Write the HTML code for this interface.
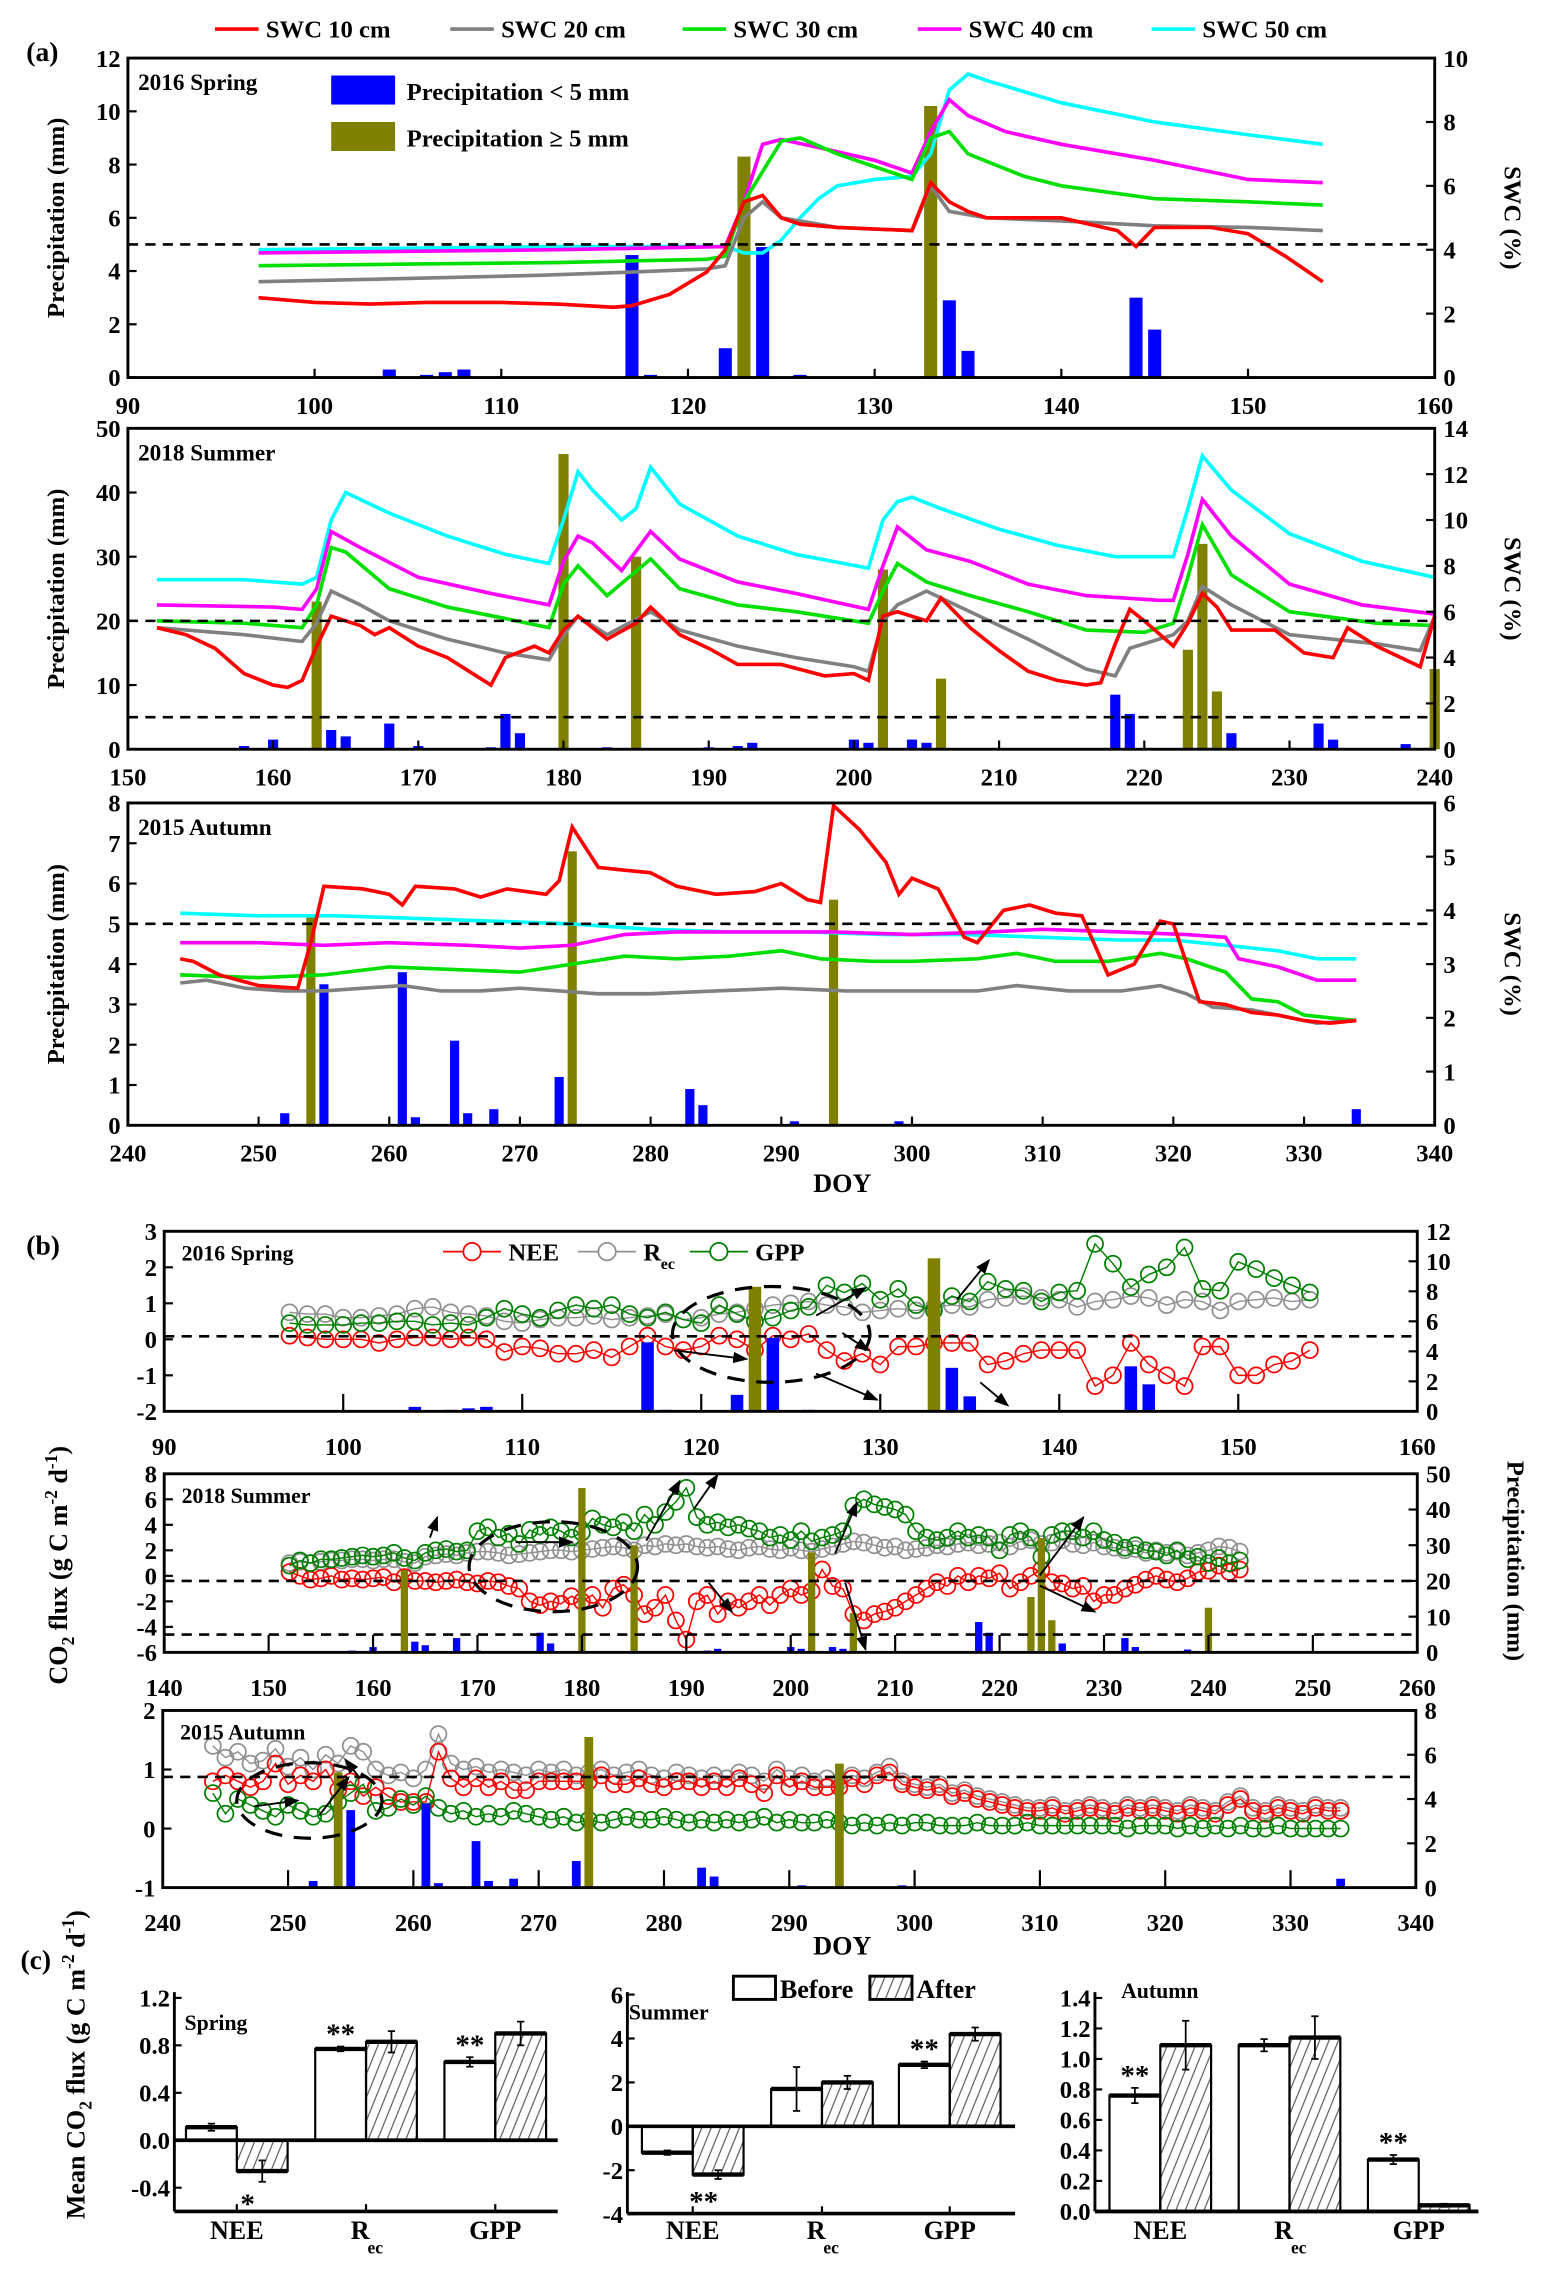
<!DOCTYPE html>
<html><head><meta charset="utf-8"><style>
html,body{margin:0;padding:0;background:#fff;}
svg{display:block;font-family:"Liberation Serif",serif;font-weight:bold;}
</style></head><body>
<svg id="fig" xmlns="http://www.w3.org/2000/svg" width="1551" height="2284" viewBox="0 0 1068 1573">
<defs><pattern id="hatch" width="6" height="6" patternUnits="userSpaceOnUse" patternTransform="rotate(22)"><line x1="1" y1="0" x2="1" y2="6" stroke="#555" stroke-width="0.8"/></pattern>
<marker id="arr" markerWidth="8" markerHeight="8" refX="7" refY="4" orient="auto"><path d="M0,1 L8,4 L0,7 Z" fill="#000"/></marker></defs>
</svg>
<script>
// ---------- DATA ----------
// Spring 2016 precipitation (mm)
const springSmallDoy=[104,106,107,108,117,118,122,124,126,134,135,144,145];
const springSmallVal=[0.3,0.1,0.2,0.3,4.6,0.1,1.1,4.9,0.1,2.9,1.0,3.0,1.8];
const springLargeDoy=[123,133];
const springLargeVal=[8.3,10.2];
// Summer 2018 precipitation
const summerSmallDoy=[158,160,164,165,168,170,175,176,177,183,190,192,193,200,201,204,205,218,219,226,232,233,238];
const summerSmallVal=[0.5,1.5,3,2,4,0.5,0.3,5.5,2.5,0.3,0.3,0.5,1,1.5,1,1.5,1,8.5,5.5,2.5,4,1.5,0.8];
const summerLargeDoy=[163,180,185,202,206,223,224,225,240];
const summerLargeVal=[23,46,30,28,11,15.5,32,9,12.5];
// Autumn 2015 precipitation
const autumnSmallDoy=[252,255,261,262,265,266,268,273,283,284,291,299,334];
const autumnSmallVal=[0.3,3.5,3.8,0.2,2.1,0.3,0.4,1.2,0.9,0.5,0.1,0.1,0.4];
const autumnLargeDoy=[254,274,294];
const autumnLargeVal=[5.2,6.8,5.6];

// SWC spring (doy,value %)
const spSWC10=[[97,2.5],[100,2.35],[103,2.3],[106,2.35],[110,2.35],[113,2.3],[116,2.2],[117,2.25],[119,2.6],[121,3.3],[122,4.0],[123,5.5],[124,5.7],[125,5.0],[126,4.8],[128,4.7],[132,4.6],[133,6.1],[134,5.5],[135,5.2],[136,5.0],[140,5.0],[143,4.6],[144,4.1],[145,4.7],[148,4.7],[150,4.5],[152,3.8],[154,3.0]];
const spSWC20=[[97,3.0],[105,3.1],[112,3.2],[117,3.3],[121,3.4],[122,3.5],[123,5.0],[124,5.5],[125,5.0],[128,4.7],[132,4.6],[133,6.0],[134,5.2],[136,5.0],[140,4.9],[145,4.75],[150,4.7],[154,4.6]];
const spSWC30=[[97,3.5],[105,3.55],[113,3.6],[121,3.7],[122,3.8],[123,5.5],[125,7.4],[126,7.5],[128,7.0],[132,6.2],[133,7.5],[134,7.7],[135,7.0],[138,6.3],[140,6.0],[145,5.6],[150,5.5],[154,5.4]];
const spSWC40=[[97,3.9],[105,3.95],[113,4.0],[122,4.1],[123,5.5],[124,7.3],[125,7.45],[127,7.2],[130,6.8],[132,6.4],[133,7.7],[134,8.7],[135,8.2],[137,7.7],[140,7.3],[145,6.8],[150,6.2],[154,6.1]];
const spSWC50=[[97,4.0],[105,4.05],[113,4.1],[122,4.1],[123,3.9],[124,3.9],[125,4.3],[126,5.0],[127,5.6],[128,6.0],[130,6.2],[132,6.3],[133,7.0],[134,9.0],[135,9.5],[136,9.3],[140,8.6],[145,8.0],[150,7.6],[154,7.3]];
// SWC summer
const suSWC10=[[152,5.3],[154,5.0],[156,4.4],[158,3.3],[160,2.8],[161,2.7],[162,3.0],[163,4.5],[164,5.8],[166,5.4],[167,5.0],[168,5.3],[170,4.5],[172,4.0],[174,3.2],[175,2.8],[176,4.0],[178,4.5],[179,4.2],[180,5.2],[181,5.8],[183,4.8],[185,5.5],[186,6.2],[188,5.0],[190,4.4],[192,3.7],[195,3.7],[198,3.2],[200,3.3],[201,3.0],[202,5.8],[203,6.0],[205,5.6],[206,6.6],[208,5.3],[210,4.3],[212,3.4],[214,3.0],[216,2.8],[217,2.9],[218,4.6],[219,6.1],[220,5.6],[222,4.5],[223,5.5],[224,6.8],[225,6.2],[226,5.2],[229,5.2],[231,4.2],[233,4.0],[234,5.3],[236,4.5],[239,3.6],[240,5.8]];
const suSWC20=[[152,5.3],[158,5.0],[162,4.7],[163,5.5],[164,6.9],[166,6.3],[168,5.6],[172,4.8],[176,4.2],[179,3.9],[180,5.0],[181,5.8],[183,5.0],[186,6.0],[188,5.2],[192,4.5],[196,4.0],[200,3.6],[201,3.4],[202,5.6],[203,6.3],[205,6.9],[208,6.0],[212,4.8],[216,3.5],[218,3.2],[219,4.4],[222,5.0],[223,5.6],[224,7.1],[226,6.3],[230,5.0],[236,4.6],[239,4.3],[240,5.8]];
const suSWC30=[[152,5.6],[158,5.5],[162,5.3],[163,6.3],[164,8.8],[165,8.6],[168,7.0],[172,6.2],[176,5.7],[179,5.3],[180,7.2],[181,8.0],[183,6.7],[186,8.3],[188,7.0],[192,6.3],[196,6.0],[201,5.5],[202,6.9],[203,8.1],[205,7.3],[208,6.7],[212,6.0],[216,5.2],[220,5.1],[222,5.5],[223,7.5],[224,9.8],[226,7.6],[230,6.0],[236,5.5],[240,5.4]];
const suSWC40=[[152,6.3],[160,6.2],[162,6.1],[163,7.0],[164,9.5],[166,8.8],[170,7.5],[175,6.8],[179,6.3],[180,8.2],[181,9.3],[182,9.0],[184,7.8],[186,9.5],[188,8.3],[192,7.3],[196,6.8],[201,6.1],[202,8.0],[203,9.7],[205,8.7],[208,8.2],[212,7.2],[216,6.7],[221,6.5],[222,6.5],[223,8.5],[224,10.9],[226,9.3],[230,7.2],[235,6.3],[240,5.9]];
const suSWC50=[[152,7.4],[158,7.4],[162,7.2],[163,7.5],[164,10.0],[165,11.2],[168,10.3],[172,9.3],[176,8.5],[179,8.1],[180,10.0],[181,12.1],[182,11.3],[184,10.0],[185,10.5],[186,12.3],[188,10.7],[192,9.3],[196,8.5],[201,7.9],[202,10.0],[203,10.8],[204,11.0],[206,10.5],[210,9.6],[214,8.9],[218,8.4],[222,8.4],[223,10.5],[224,12.8],[226,11.3],[230,9.4],[235,8.2],[240,7.5]];
// SWC autumn
const auSWC10=[[244,3.1],[245,3.05],[247,2.8],[250,2.6],[253,2.55],[254,3.4],[255,4.45],[258,4.4],[260,4.3],[261,4.1],[262,4.45],[265,4.4],[267,4.25],[269,4.4],[272,4.3],[273,4.55],[274,5.55],[276,4.8],[278,4.75],[280,4.7],[282,4.45],[285,4.3],[288,4.35],[290,4.5],[292,4.2],[293,4.15],[294,5.95],[296,5.5],[298,4.9],[299,4.3],[300,4.6],[302,4.4],[304,3.5],[305,3.4],[307,4.0],[309,4.1],[311,3.95],[313,3.9],[315,2.8],[317,3.0],[319,3.8],[320,3.75],[322,2.3],[324,2.25],[326,2.1],[328,2.05],[330,1.95],[332,1.9],[334,1.95]];
const auSWC20=[[244,2.65],[246,2.7],[249,2.55],[252,2.5],[255,2.5],[258,2.55],[261,2.6],[264,2.5],[267,2.5],[270,2.55],[273,2.5],[276,2.45],[280,2.45],[285,2.5],[290,2.55],[295,2.5],[300,2.5],[305,2.5],[308,2.6],[312,2.5],[316,2.5],[319,2.6],[321,2.45],[323,2.2],[326,2.15],[328,2.05],[331,1.9],[334,1.95]];
const auSWC30=[[244,2.8],[250,2.75],[255,2.8],[260,2.95],[265,2.9],[270,2.85],[274,3.0],[278,3.15],[282,3.1],[286,3.15],[290,3.25],[293,3.1],[297,3.05],[300,3.05],[305,3.1],[308,3.2],[311,3.05],[315,3.05],[319,3.2],[321,3.1],[324,2.85],[326,2.35],[328,2.3],[330,2.05],[334,1.95]];
const auSWC40=[[244,3.4],[250,3.4],[255,3.35],[260,3.4],[266,3.35],[270,3.3],[274,3.35],[278,3.55],[282,3.6],[288,3.6],[294,3.6],[300,3.55],[306,3.6],[310,3.65],[316,3.6],[321,3.55],[324,3.5],[325,3.1],[328,2.95],[331,2.7],[334,2.7]];
const auSWC50=[[244,3.95],[250,3.9],[256,3.9],[262,3.85],[268,3.8],[274,3.75],[280,3.65],[286,3.6],[292,3.6],[298,3.55],[304,3.55],[310,3.5],[316,3.45],[320,3.45],[324,3.35],[328,3.25],[331,3.1],[334,3.1]];

// CO2 flux daily (start DOY + values)
const spStart=97;
const spNEE=[0.1,0.05,0.0,0.0,0.0,-0.1,0.0,0.05,0.05,0.0, 0.05,0.0,-0.35,-0.2,-0.25,-0.4,-0.4,-0.3,-0.5,-0.2, 0.1,-0.2,-0.3,-0.2,0.1,0.0,-0.3,0.1,0.0,0.15, -0.3,-0.6,-0.4,-0.7,-0.2,-0.2,-0.1,-0.1,-0.1,-0.7, -0.6,-0.4,-0.3,-0.3,-0.3,-1.3,-1.0,-0.1,-0.7,-1.0, -1.3,-0.2,-0.2,-1.0,-1.0,-0.7,-0.6,-0.3];
const spRec=[0.75,0.7,0.7,0.6,0.6,0.65,0.7,0.85,0.9,0.75, 0.7,0.65,0.5,0.45,0.55,0.6,0.6,0.65,0.55,0.6, 0.65,0.7,0.55,0.6,0.7,0.75,0.85,0.95,1.0,1.05, 0.95,0.9,0.75,0.8,0.85,0.8,0.9,0.95,0.9,1.1, 1.15,1.2,1.15,1.1,0.9,1.05,1.1,1.2,1.15,0.95, 1.1,1.05,0.8,1.05,1.1,1.15,1.05,1.1];
const spGPP=[0.45,0.4,0.4,0.4,0.45,0.45,0.5,0.5,0.4,0.45, 0.4,0.6,0.85,0.7,0.6,0.8,0.95,0.85,0.95,0.7, 0.6,0.75,0.55,0.45,0.95,0.7,0.5,0.6,0.8,0.9, 1.5,1.3,1.55,1.1,1.4,0.95,0.8,1.2,1.05,1.6, 1.4,1.35,1.05,1.3,1.35,2.65,2.1,1.45,1.8,2.0, 2.55,1.4,1.35,2.15,1.95,1.7,1.5,1.3];
const suStart=152;
const suNEE=[0.3,0.0,-0.3,-0.2,0.0,-0.3,-0.2,-0.3,-0.2,-0.1,-0.5,-0.1,-0.4,-0.4, -0.5,-0.4,-0.3,-0.5,-0.6,-0.4,-0.5,-0.8,-1.0,-2.0,-2.3,-2.0,-2.2,-1.6,-2.0, -1.5,-2.5,-1.0,-0.7,-1.5,-3.0,-2.5,-1.5,-3.5,-5.0,-2.0,-1.5,-3.0,-2.0,-2.5,-2.0,-1.5,-2.3,-1.5,-1.0, -1.5,-1.2,0.5,-0.8,-1.0,-3.0,-3.5,-3.0,-2.8,-2.5,-2.0,-1.5,-1.0,-0.5,-0.8,0.0,-0.5,0.0,-0.2,0.2, -1.0,-0.5,0.0,0.5,-0.5,-0.6,-1.0,-0.8,-2.0,-1.5,-1.5,-1.0,-0.7,-0.3,0.0,-0.3,-0.5,-0.2,0.3,0.4,0.8,0.3,0.5];
const suRec=[1.0,1.1,1.0,1.1,1.2,1.2,1.3,1.3,1.2,1.3,1.3,1.1,1.0,1.5, 1.6,1.7,1.6,1.8,1.9,1.9,1.8,1.6,1.7,1.8,1.9,2.0,2.0,1.9,2.0, 2.1,2.2,2.3,2.2,2.0,2.4,2.3,2.5,2.4,2.5,2.3,2.2,2.3,2.1,2.0,2.2,2.3,2.1,2.0,2.2, 2.0,1.9,2.1,2.3,2.5,2.7,2.6,2.4,2.2,2.3,2.0,2.1,2.2,2.4,2.3,2.5,2.6,2.4,2.5,2.6, 2.3,2.7,2.8,2.5,2.6,2.8,2.5,2.4,2.6,2.3,2.2,2.0,2.1,1.8,2.0,1.8,1.9,1.6,1.8,2.0,2.3,2.2,1.9];
const suGPP=[0.8,1.2,1.0,1.3,1.3,1.4,1.5, 1.6,1.5,1.6,1.8,1.4,1.2,1.8, 2.0,2.1,1.9,2.0,3.5, 3.8,3.0,3.3,2.5,3.6,3.2,3.8,3.5,3.0,3.4, 4.5,4.0,3.8,4.2,3.5,4.8,4.0,5.0,5.8,6.9, 4.6,4.0,4.2,3.8,4.0,3.7,3.5,3.0,3.2,2.8, 3.5,2.7,3.0,3.2,3.5,5.5,6.0,5.6,5.4,5.2, 4.8,3.5,3.0,2.8,3.0,3.5,3.0,3.2,3.0,2.0, 3.2,3.5,3.0,1.5,3.2,3.5,3.5,3.0,3.5,2.8, 2.6,2.2,2.4,2.0,1.9,1.6,2.0,1.3,1.5,1.0,1.4,1.0,1.2];
const auStart=244;
const auNEE=[0.8,0.9,0.8,0.7,0.8,1.1,0.75,0.9,0.8,1.0, 0.65,0.8,0.55,0.7,0.55,0.45,0.45,0.45,1.3,0.85, 0.7,0.85,0.7,0.8,0.65,0.65,0.8,0.8,0.8,0.8, 0.8,0.9,0.75,0.75,0.85,0.75,0.7,0.8,0.8,0.7, 0.8,0.7,0.85,0.75,0.6,0.9,0.7,0.8,0.7,0.7, 0.7,0.85,0.75,0.9,0.95,0.75,0.7,0.65,0.7,0.55, 0.6,0.5,0.45,0.4,0.35,0.3,0.3,0.35,0.25,0.3, 0.35,0.3,0.25,0.35,0.3,0.35,0.3,0.25,0.35,0.3, 0.25,0.4,0.5,0.3,0.25,0.35,0.3,0.25,0.35,0.3,0.3];
const auRec=[1.4,1.2,1.3,1.1,1.15,1.35,1.05,1.2,1.0,1.25, 1.1,1.4,1.3,1.0,0.9,0.95,0.85,1.0,1.6,1.1, 1.0,1.05,0.95,1.0,0.95,0.9,1.0,0.95,1.0,0.9, 0.95,1.0,0.9,0.95,1.0,0.9,0.85,0.95,0.9,0.85, 0.9,0.85,0.95,0.9,0.8,1.0,0.85,0.9,0.8,0.85, 0.8,0.9,0.85,0.95,1.05,0.8,0.75,0.7,0.75,0.6, 0.65,0.55,0.5,0.45,0.4,0.35,0.35,0.4,0.3,0.35, 0.4,0.35,0.3,0.4,0.35,0.4,0.35,0.3,0.4,0.35, 0.3,0.45,0.55,0.35,0.3,0.4,0.35,0.3,0.4,0.35,0.35];
const auGPP=[0.6,0.25,0.5,0.4,0.3,0.2,0.4,0.3,0.2,0.25, 0.45,0.6,0.75,0.3,0.35,0.5,0.4,0.55,0.35,0.25, 0.3,0.2,0.25,0.2,0.3,0.25,0.2,0.15,0.2,0.1, 0.15,0.1,0.15,0.2,0.15,0.15,0.2,0.15,0.1,0.15, 0.1,0.15,0.1,0.15,0.2,0.1,0.15,0.1,0.1,0.15, 0.1,0.05,0.1,0.05,0.1,0.05,0.1,0.1,0.05,0.05, 0.05,0.1,0.05,0.05,0.05,0.1,0.05,0.05,0.05,0.05, 0.05,0.05,0.05,0.0,0.05,0.05,0.05,0.0,0.05,0.0, 0.05,0.0,0.05,0.0,0.0,0.05,0.0,0.0,0.0,0.0,0.0];

// Panel (c) means
const barCats=['NEE','Rec','GPP'];
const springBefore=[0.11,0.77,0.66], springBeforeErr=[0.03,0.02,0.04];
const springAfter=[-0.26,0.83,0.90], springAfterErr=[0.09,0.09,0.10];
const summerBefore=[-1.2,1.7,2.8], summerBeforeErr=[0.1,1.0,0.15];
const summerAfter=[-2.2,2.0,4.2], summerAfterErr=[0.2,0.3,0.3];
const autumnBefore=[0.76,1.09,0.34], autumnBeforeErr=[0.05,0.04,0.03];
const autumnAfter=[1.09,1.14,0.04], autumnAfterErr=[0.16,0.14,0.01];

// ---------- DRAWING ----------
const svg=document.getElementById('fig');
const NS='http://www.w3.org/2000/svg';
function mk(tag,attrs,name,parent){
  const el=document.createElementNS(NS,tag);
  for(const k in attrs) el.setAttribute(k,attrs[k]);
  
  
  (parent||svg).appendChild(el);
  return el;
}
function txt(x,y,s,size,name,anchor,extra){
  const a=Object.assign({x:x,y:y,'font-size':size,'text-anchor':anchor||'start'},extra||{});
  const t=mk('text',a,name);
  t.textContent=s;
  return t;
}
function fmt(v,d){return d?v.toFixed(d):String(v);}

const PANELS={
 a1:{x0:88,x1:988,y0:40,y1:260,xmin:90,xmax:160,xs:10,lmin:0,lmax:12,ls:2,rmin:0,rmax:10,rs:2},
 a2:{x0:88,x1:988,y0:295,y1:516,xmin:150,xmax:240,xs:10,lmin:0,lmax:50,ls:10,rmin:0,rmax:14,rs:2},
 a3:{x0:88,x1:988,y0:553,y1:775,xmin:240,xmax:340,xs:10,lmin:0,lmax:8,ls:1,rmin:0,rmax:6,rs:1},
 b1:{x0:113,x1:976,y0:848,y1:972,xmin:90,xmax:160,xs:10,lmin:-2,lmax:3,ls:1,rmin:0,rmax:12,rs:2},
 b2:{x0:113,x1:976,y0:1015,y1:1138,xmin:140,xmax:260,xs:10,lmin:-6,lmax:8,ls:2,rmin:0,rmax:50,rs:10},
 b3:{x0:112,x1:975,y0:1178,y1:1300,xmin:240,xmax:340,xs:10,lmin:-1,lmax:2,ls:1,rmin:0,rmax:8,rs:2}
};
function sx(p,v){return p.x0+(v-p.xmin)/(p.xmax-p.xmin)*(p.x1-p.x0);}
function syl(p,v){return p.y1-(v-p.lmin)/(p.lmax-p.lmin)*(p.y1-p.y0);}
function syr(p,v){return p.y1-(v-p.rmin)/(p.rmax-p.rmin)*(p.y1-p.y0);}

function axes(key,p){
  const g=mk('g',{},key+'-axes');
  mk('rect',{x:p.x0,y:p.y0,width:p.x1-p.x0,height:p.y1-p.y0,fill:'none',stroke:'#000','stroke-width':2},key+'-plot-frame',g);
  for(let v=p.lmin;v<=p.lmax+1e-9;v+=p.ls){
    const y=syl(p,v);
    mk('line',{x1:p.x0,y1:y,x2:p.x0+6,y2:y,stroke:'#000','stroke-width':1.5},key+'-left-tick',g);
    txt(p.x0-5,y+6,String(Math.round(v*10)/10),17,key+'-left-tick-label','end');
  }
  for(let v=p.rmin;v<=p.rmax+1e-9;v+=p.rs){
    const y=syr(p,v);
    mk('line',{x1:p.x1-6,y1:y,x2:p.x1,y2:y,stroke:'#000','stroke-width':1.5},key+'-right-tick',g);
    txt(p.x1+6,y+6,String(v),17,key+'-right-tick-label','start');
  }
  for(let v=p.xmin;v<=p.xmax+1e-9;v+=p.xs){
    const x=sx(p,v);
    mk('line',{x1:x,y1:p.y1,x2:x,y2:p.y1-(key[0]==='b'?12:6),stroke:'#000','stroke-width':1.5},key+'-x-tick',g);
    txt(x,p.y1+(key[0]==='b'?30:25),String(v),17,key+'-x-tick-label','middle');
  }
}
function bars(key,p,doy,val,color,right,name){
  const w=(p.x1-p.x0)/(p.xmax-p.xmin)*0.7;
  for(let i=0;i<doy.length;i++){
    const x=sx(p,doy[i]);
    const y=right?syr(p,val[i]):syl(p,val[i]);
    const r=mk('rect',{x:x-w/2,y:y,width:w,height:p.y1-y,fill:color},name);
  }
}
function swcLine(p,pts,color,name){
  const d=pts.map((q,i)=>(i?'L':'M')+sx(p,q[0]).toFixed(1)+','+syr(p,q[1]).toFixed(1)).join('');
  mk('path',{d:d,fill:'none',stroke:color,'stroke-width':2.5},name);
}
function dashL(p,v,name){const y=syl(p,v);mk('line',{x1:p.x0,y1:y,x2:p.x1,y2:y,stroke:'#000','stroke-width':1.8,'stroke-dasharray':'7,5'},name);}
function fluxSeries(p,start,vals,color,name){
  const d=vals.map((v,i)=>(i?'L':'M')+sx(p,start+i).toFixed(1)+','+syl(p,v).toFixed(1)).join('');
  mk('path',{d:d,fill:'none',stroke:color,'stroke-width':1},name+'-line');
  vals.forEach((v,i)=>{
    mk('circle',{cx:sx(p,start+i),cy:syl(p,v),r:5.5,fill:'none',stroke:color,'stroke-width':1.2},name+'-point');
  });
}
const OLIVE='#808000', BLUE='#0000ff';
const C10='#ff0000',C20='#808080',C30='#00e000',C40='#ff00ff',C50='#00ffff';

// ---- Panel a ----
txt(18,42,'(a)',19,'panel-a-label');
[['#ff0000',148,'SWC 10 cm'],['#808080',310,'SWC 20 cm'],['#00e000',470,'SWC 30 cm'],['#ff00ff',632,'SWC 40 cm'],['#00ffff',793,'SWC 50 cm']].forEach((e,i)=>{
  mk('line',{x1:e[1],y1:20,x2:e[1]+30,y2:20,stroke:e[0],'stroke-width':2.5},'legend-swc-line');
  txt(e[1]+35,26,e[2],17,'legend-swc-label');
});
const seasonsA=[
 ['a1',springSmallDoy,springSmallVal,springLargeDoy,springLargeVal,[spSWC10,spSWC20,spSWC30,spSWC40,spSWC50],'2016 Spring',[5]],
 ['a2',summerSmallDoy,summerSmallVal,summerLargeDoy,summerLargeVal,[suSWC10,suSWC20,suSWC30,suSWC40,suSWC50],'2018 Summer',[20,5]],
 ['a3',autumnSmallDoy,autumnSmallVal,autumnLargeDoy,autumnLargeVal,[auSWC10,auSWC20,auSWC30,auSWC40,auSWC50],'2015 Autumn',[5]]
];
seasonsA.forEach(s=>{
  const p=PANELS[s[0]];
  bars(s[0],p,s[1],s[2],BLUE,false,s[0]+'-precip-small-bar');
  bars(s[0],p,s[3],s[4],OLIVE,false,s[0]+'-precip-large-bar');
  const cols=[C10,C20,C30,C40,C50];
  [4,3,2,1,0].forEach(i=>swcLine(p,s[5][i],cols[i],s[0]+'-swc-'+(i+1)*10+'cm-line'));
  s[7].forEach(v=>dashL(p,v,s[0]+'-threshold-line'));
  axes(s[0],p);
  txt(p.x0+7,p.y0+22,s[6],16,s[0]+'-season-title');
  const cy=(p.y0+p.y1)/2;
  txt(0,0,'Precipitation (mm)',17,s[0]+'-left-axis-title','middle',{transform:'translate(44,'+cy+') rotate(-90)'});
  txt(0,0,'SWC (%)',17,s[0]+'-right-axis-title','middle',{transform:'translate(1036,'+cy+') rotate(90)'});
});
mk('rect',{x:228,y:52,width:44,height:20,fill:BLUE},'legend-precip-small-swatch');
txt(280,69,'Precipitation < 5 mm',17,'legend-precip-small-label');
mk('rect',{x:228,y:84,width:44,height:20,fill:OLIVE},'legend-precip-large-swatch');
txt(280,101,'Precipitation \u2265 5 mm',17,'legend-precip-large-label');
txt(580,821,'DOY',18,'a-x-axis-title','middle');

// ---- Panel b ----
txt(18,864,'(b)',19,'panel-b-label');
const seasonsB=[
 ['b1',spStart,spNEE,spRec,spGPP,springSmallDoy,springSmallVal,springLargeDoy,springLargeVal,'2016 Spring',[5]],
 ['b2',suStart,suNEE,suRec,suGPP,summerSmallDoy,summerSmallVal,summerLargeDoy,summerLargeVal,'2018 Summer',[20,5]],
 ['b3',auStart,auNEE,auRec,auGPP,autumnSmallDoy,autumnSmallVal,autumnLargeDoy,autumnLargeVal,'2015 Autumn',[5]]
];
seasonsB.forEach(s=>{
  const p=PANELS[s[0]];
  fluxSeries(p,s[1],s[3],'#909090',s[0]+'-rec');
  fluxSeries(p,s[1],s[2],'#ff0000',s[0]+'-nee');
  fluxSeries(p,s[1],s[4],'#008000',s[0]+'-gpp');
  bars(s[0],p,s[5],s[6],BLUE,true,s[0]+'-precip-small-bar');
  bars(s[0],p,s[7],s[8],OLIVE,true,s[0]+'-precip-large-bar');
  s[10].forEach(v=>{const y=syr(p,v);mk('line',{x1:p.x0,y1:y,x2:p.x1,y2:y,stroke:'#000','stroke-width':1.8,'stroke-dasharray':'7,5'},s[0]+'-threshold-line');});
  axes(s[0],p);
  txt(p.x0+12,p.y0+20,s[9],15,s[0]+'-season-title');
});
// legend b1
[['#ff0000',305,'NEE'],['#909090',398,'R'],['#008000',475,'GPP']].forEach(e=>{
  mk('line',{x1:e[1],y1:862,x2:e[1]+40,y2:862,stroke:e[0],'stroke-width':1.2},'legend-flux-line');
  mk('circle',{cx:e[1]+20,cy:862,r:6,fill:'#fff',stroke:e[0],'stroke-width':1.2},'legend-flux-marker');
  txt(e[1]+45,868,e[2],17,'legend-flux-label');
});
txt(455,874,'ec',11,'legend-rec-subscript');
// annotations
mk('ellipse',{cx:531,cy:919,rx:68,ry:33,fill:'none',stroke:'#000','stroke-width':2.2,'stroke-dasharray':'12,8'},'b1-dashed-ellipse');
mk('ellipse',{cx:381,cy:1079,rx:58,ry:31,fill:'none',stroke:'#000','stroke-width':2.2,'stroke-dasharray':'12,8'},'b2-dashed-ellipse');
mk('ellipse',{cx:213,cy:1240,rx:50,ry:26,fill:'none',stroke:'#000','stroke-width':2.2,'stroke-dasharray':'12,8'},'b3-dashed-ellipse');
[[464,930,514,936],[562,946,604,964],[562,906,596,887],[659,895,681,868],[675,952,694,968],[580,918,598,930],
 [355,1062,394,1062],[478,1039,494,1016],[445,1061,468,1020],[575,1070,590,1035],[582,1090,596,1136],[716,1085,746,1045],[716,1092,754,1110],[488,1090,504,1110],[296,1059,301,1045],
 [175,1244,205,1240],[220,1250,240,1224],[248,1225,238,1212]].forEach(a=>{
  mk('line',{x1:a[0],y1:a[1],x2:a[2],y2:a[3],stroke:'#000','stroke-width':1.3,'marker-end':'url(#arr)'},'annotation-arrow');
});
txt(580,1346,'DOY',18,'b-x-axis-title','middle');
{
  const t=mk('text',{transform:'translate(46,1078) rotate(-90)','font-size':18,'text-anchor':'middle'},'b-left-axis-title');
  t.innerHTML='CO<tspan font-size="12" dy="5">2</tspan><tspan dy="-5"> flux (g C m</tspan><tspan font-size="12" dy="-7">-2</tspan><tspan dy="7"> d</tspan><tspan font-size="12" dy="-7">-1</tspan><tspan dy="7">)</tspan>';
  txt(0,0,'Precipitation (mm)',17,'b-right-axis-title','middle',{transform:'translate(1038,1075) rotate(90)'});
}

// ---- Panel c ----
txt(14,1356,'(c)',19,'panel-c-label');
{
  const t=mk('text',{transform:'translate(58,1422) rotate(-90)','font-size':18,'text-anchor':'middle'},'c-left-axis-title');
  t.innerHTML='Mean CO<tspan font-size="12" dy="5">2</tspan><tspan dy="-5"> flux (g C m</tspan><tspan font-size="12" dy="-7">-2</tspan><tspan dy="7"> d</tspan><tspan font-size="12" dy="-7">-1</tspan><tspan dy="7">)</tspan>';
}
const CP=[
 {k:'spring',ax:120,axr:384,zero:1474,pxu:81.7,ticks:[-0.4,0,0.4,0.8,1.2],dec:1,bottom:1523,top:1372,centers:[163,252,341],before:springBefore,be:springBeforeErr,after:springAfter,ae:springAfterErr,title:'Spring',tx:127,ty:1398,
  stars:[[0,'after','*','below'],[1,'before','**','above'],[2,'before','**','above']]},
 {k:'summer',ax:432,axr:699,zero:1464.4,pxu:15.12,ticks:[-4,-2,0,2,4,6],dec:0,bottom:1524.5,top:1372,centers:[477,566,654],before:summerBefore,be:summerBeforeErr,after:summerAfter,ae:summerAfterErr,title:'Summer',tx:433,ty:1391,
  stars:[[0,'after','**','below'],[2,'before','**','above']]},
 {k:'autumn',ax:754,axr:1018,zero:1523,pxu:105,ticks:[0,0.2,0.4,0.6,0.8,1.0,1.2,1.4],dec:1,bottom:1523,top:1372,centers:[799,888,977],before:autumnBefore,be:autumnBeforeErr,after:autumnAfter,ae:autumnAfterErr,title:'Autumn',tx:772,ty:1376,
  stars:[[0,'before','**','above'],[2,'before','**','above']]}
];
CP.forEach(c=>{
  const vy=v=>c.zero-v*c.pxu;
  const g=mk('g',{},'c-'+c.k+'-chart');
  const W=35;
  for(let i=0;i<3;i++){
    const cx=c.centers[i];
    [['before',c.before[i],c.be[i],cx-W,'#fff'],['after',c.after[i],c.ae[i],cx,'url(#hatch)']].forEach(b=>{
      const y=vy(b[1]);
      const top=Math.min(y,c.zero), h=Math.abs(y-c.zero);
      mk('rect',{x:b[3],y:top,width:W,height:h,fill:b[4],stroke:'#000','stroke-width':1.5},'c-'+c.k+'-'+barCats[i]+'-'+b[0]+'-bar',g);
      mk('line',{x1:b[3],y1:y,x2:b[3]+W,y2:y,stroke:'#000','stroke-width':3},'c-'+c.k+'-'+barCats[i]+'-'+b[0]+'-bar-cap',g);
      const ex=b[3]+W/2;
      mk('line',{x1:ex,y1:vy(b[1]+b[2]),x2:ex,y2:vy(b[1]-b[2]),stroke:'#000','stroke-width':1.2},'c-'+c.k+'-error-bar',g);
      mk('line',{x1:ex-2.5,y1:vy(b[1]+b[2]),x2:ex+2.5,y2:vy(b[1]+b[2]),stroke:'#000','stroke-width':1.2},'c-'+c.k+'-error-cap',g);
      mk('line',{x1:ex-2.5,y1:vy(b[1]-b[2]),x2:ex+2.5,y2:vy(b[1]-b[2]),stroke:'#000','stroke-width':1.2},'c-'+c.k+'-error-cap',g);
    });
    mk('line',{x1:cx,y1:c.bottom,x2:cx,y2:c.bottom-5,stroke:'#000','stroke-width':1.5},'c-'+c.k+'-x-tick',g);
  }
  c.stars.forEach(s=>{
    const i=s[0], isB=s[1]==='before';
    const v=isB?c.before[i]:c.after[i], e=isB?c.be[i]:c.ae[i];
    const x=c.centers[i]+(isB?-W/2:W/2);
    const y=s[3]==='above'?vy(v+e)-2:vy(v-e)+22;
    txt(x+(s[3]==='below'?-10:0),y,s[2],20,'c-'+c.k+'-significance-mark','middle');
  });
  mk('line',{x1:c.ax,y1:c.zero,x2:c.axr,y2:c.zero,stroke:'#000','stroke-width':2.5},'c-'+c.k+'-zero-line',g);
  mk('line',{x1:c.ax,y1:c.bottom,x2:c.axr,y2:c.bottom,stroke:'#000','stroke-width':2.5},'c-'+c.k+'-x-axis',g);
  mk('line',{x1:c.ax,y1:c.top,x2:c.ax,y2:c.bottom,stroke:'#000','stroke-width':2},'c-'+c.k+'-y-axis',g);
  c.ticks.forEach(v=>{
    const y=vy(v);
    mk('line',{x1:c.ax,y1:y,x2:c.ax+5,y2:y,stroke:'#000','stroke-width':1.5},'c-'+c.k+'-y-tick',g);
    txt(c.ax-3,y+6,fmt(v,c.dec),17,'c-'+c.k+'-y-tick-label','end');
  });
  txt(c.tx,c.ty,c.title,15,'c-'+c.k+'-title');
  txt(c.centers[0],1542,'NEE',18,'c-'+c.k+'-x-label-nee','middle');
  txt(c.centers[1]-4,1542,'R',18,'c-'+c.k+'-x-label-rec','middle');
  txt(c.centers[1]+1,1552,'ec',12,'c-'+c.k+'-x-label-rec-sub','start');
  txt(c.centers[2],1542,'GPP',18,'c-'+c.k+'-x-label-gpp','middle');
});
mk('rect',{x:505,y:1361,width:29,height:16,fill:'#fff',stroke:'#000','stroke-width':2},'c-legend-before-swatch');
txt(537,1376,'Before',18,'c-legend-before-label');
mk('rect',{x:599,y:1361,width:29,height:16,fill:'url(#hatch)',stroke:'#000','stroke-width':2},'c-legend-after-swatch');
txt(631,1376,'After',18,'c-legend-after-label');
</script>
</body></html>
